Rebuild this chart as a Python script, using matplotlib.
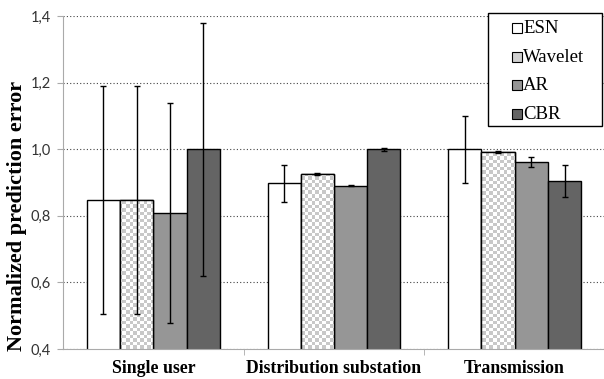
import numpy as np
import matplotlib.pyplot as plt
from matplotlib.patches import Rectangle
from matplotlib.colors import ListedColormap

categories = ['Single user', 'Distribution substation', 'Transmission']
methods = ['ESN', 'Wavelet', 'AR', 'CBR']

esn = [0.848, 0.897, 1.000]
wavelet = [0.848, 0.926, 0.991]
ar = [0.809, 0.890, 0.962]
cbr = [1.000, 1.000, 0.904]

esn_err = [0.342, 0.055, 0.100]
wavelet_err = [0.342, 0.003, 0.003]
ar_err = [0.330, 0.002, 0.015]
cbr_err = [0.380, 0.004, 0.048]

yticks = [0.4, 0.6, 0.8, 1.0, 1.2, 1.4]
ytick_labels = ['0,4', '0,6', '0,8', '1,0', '1,2', '1,4']

values = [esn, wavelet, ar, cbr]
errors = [esn_err, wavelet_err, ar_err, cbr_err]
colors = ['white', 'white', '#969696', '#646464']
legend_colors = ['white', '#d0d0d0', '#969696', '#646464']

serif = 'Liberation Serif'
sans = 'Lato'
W, H = 604, 379

fig = plt.figure(figsize=(W / 100, H / 100), dpi=100)
ax = fig.add_axes([63 / W, 30 / H, 542 / W, 333 / H])

x = np.arange(len(categories))
width = 0.184

# checkerboard fill for the Wavelet bars (about 3.5 px per cell)
checker = (np.add.outer(np.arange(95), np.arange(155)) % 2).astype(float)
checker_cmap = ListedColormap(['#c8c8c8', 'white'])

for i, (vals, errs, col) in enumerate(zip(values, errors, colors)):
    pos = x + (i - 1.5) * width
    bars = ax.bar(pos, vals, width, bottom=0, color=col, edgecolor='black',
                  linewidth=1.0, zorder=3)
    if methods[i] == 'Wavelet':
        for b in bars:
            im = ax.imshow(checker, cmap=checker_cmap, vmin=0, vmax=1,
                           extent=[-0.5, 2.5, 0.4, 1.4], aspect='auto',
                           interpolation='nearest', zorder=3.5)
            clip = Rectangle((b.get_x(), 0.4), b.get_width(), b.get_height() - 0.4,
                             transform=ax.transData)
            im.set_clip_path(clip)
            ax.add_patch(Rectangle(b.get_xy(), b.get_width(), b.get_height(),
                                   fill=False, edgecolor='black', linewidth=1.0,
                                   zorder=4))
    ax.errorbar(pos, vals, yerr=errs, fmt='none', ecolor='black',
                elinewidth=1.0, capsize=2.5, capthick=1.0, zorder=5)

ax.set_xlim(-0.5, 2.5)
ax.set_ylim(0.4, 1.4)

ax.set_yticks(yticks)
ax.set_yticklabels(ytick_labels, fontsize=10.5, family=sans, color='#333333')
ax.yaxis.grid(True, linestyle=(0, (1, 2)), color='#444444', linewidth=0.8)
ax.set_axisbelow(True)

ax.set_xticks([0.5, 1.5], minor=True)
ax.set_xticks(x)
ax.set_xticklabels(categories, fontsize=12.8, family=serif, fontweight='bold')
ax.tick_params(axis='x', which='major', length=0, pad=8)
ax.tick_params(axis='x', which='minor', length=4, color='#aaaaaa')
ax.tick_params(axis='y', length=4, color='#aaaaaa', pad=5)

for side in ['top', 'right']:
    ax.spines[side].set_visible(False)
for side in ['left', 'bottom']:
    ax.spines[side].set_color('#aaaaaa')
    ax.spines[side].set_zorder(6)

fig.text(17 / W, 1 - 216 / H, 'Normalized prediction error', rotation=90,
         ha='center', va='center', fontsize=16, family=serif,
         fontweight='bold')

# legend box drawn in pixel positions
px = lambda u, v: (u / W, 1 - v / H)
fig.add_artist(Rectangle(px(488, 126), 114 / W, 113 / H, transform=fig.transFigure,
                         facecolor='white', edgecolor='black', linewidth=1.0,
                         zorder=10))
for k, (name, col) in enumerate(zip(methods, legend_colors)):
    cy = 28 + k * 28.7
    fig.add_artist(Rectangle(px(512, cy + 5), 10 / W, 10 / H,
                             transform=fig.transFigure, facecolor=col,
                             edgecolor='black', linewidth=0.8, zorder=11))
    fig.text(*px(523, cy + 0.5), name, ha='left', va='center', fontsize=13.5,
             family=serif, zorder=11)

fig.savefig('out.png', dpi=100)
